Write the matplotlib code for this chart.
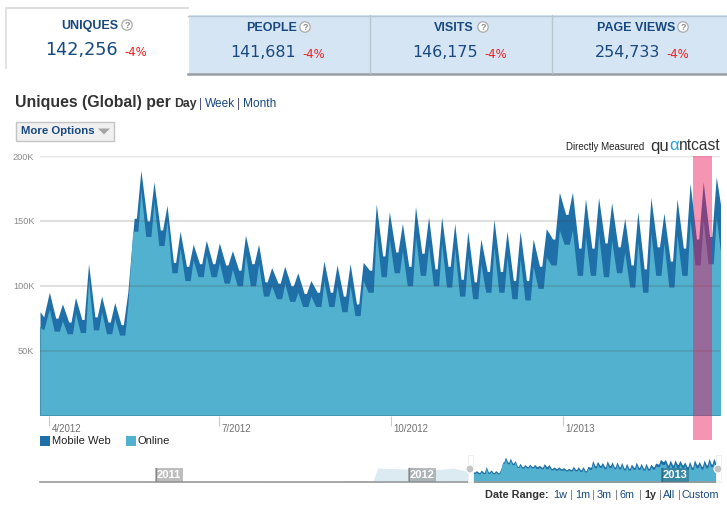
"""Quantcast traffic panel: tabs, daily uniques area chart and overview strip."""

import matplotlib
matplotlib.use("Agg")
import matplotlib.pyplot as plt
from matplotlib.patches import Circle, Polygon, Rectangle
from matplotlib.transforms import ScaledTranslation
import numpy as np

plt.rcParams["font.family"] = ["Liberation Sans", "DejaVu Sans"]

W, H = 727, 509

# weekly highs and lows in thousands, one value per week from the start of April 2012
total_peak = [95, 86, 91, 117, 92, 87, 95, 189, 180, 162, 142, 132, 135, 133, 127,
              139, 132, 114, 115, 110, 104, 119, 116, 117, 118,
              163, 157, 148, 161, 153, 153, 148, 142, 136,
              151, 142, 142, 136, 144,
              172, 172, 167, 168, 164, 152, 157, 168, 156, 167, 179, 180, 184]
total_low = [75, 72, 74, 76, 72, 70, 152, 150, 143, 118, 115, 117, 117, 116, 112,
             117, 103, 102, 100, 94, 95, 95, 92, 86, 112,
             123, 126, 115, 125, 113, 115, 105, 103, 111,
             111, 104, 104, 115, 136,
             155, 129, 129, 133, 130, 116, 113, 130, 119, 129, 136, 138, 152]
online_peak = [82, 73, 79, 105, 80, 75, 85, 174, 165, 150, 129, 120, 124, 118, 113,
               124, 117, 100, 102, 95, 92, 104, 100, 100, 104,
               142, 136, 127, 138, 131, 133, 129, 122, 117,
               130, 122, 121, 115, 122,
               143, 143, 138, 140, 135, 126, 134, 141, 133, 139, 151, 151, 153]
online_low = [65, 63, 64, 66, 63, 62, 142, 138, 131, 110, 104, 107, 107, 102, 100,
              100, 92, 90, 88, 84, 84, 84, 80, 77, 95,
              107, 110, 100, 108, 100, 99, 92, 90, 95,
              95, 90, 89, 98, 116,
              132, 108, 108, 107, 110, 99, 95, 108, 99, 108, 116, 117, 122]
start_total = [80, 76]
start_online = [68, 66]

y_ticks = [50, 100, 150, 200]
y_labels = ["50K", "100K", "150K", "200K"]
month_days = [5, 96, 188, 280]
month_labels = ["4/2012", "7/2012", "10/2012", "1/2013"]

# overview strip history before the selected year (days since 1 Jan 2011, thousands)
hist_days = [-168, -100, 0, 60, 120, 180, 240, 300, 314, 320, 365, 366, 400, 430, 451]
hist_values = [1, 1, 2, 3, 5, 6, 7, 8, 10, 105, 98, 115, 92, 105, 80]
year_days = [0, 365, 731]
year_labels = ["2011", "2012", "2013"]

tabs = ["UNIQUES", "PEOPLE", "VISITS", "PAGE VIEWS"]
tab_values = ["142,256", "141,681", "146,175", "254,733"]
tab_changes = ["-4%", "-4%", "-4%", "-4%"]

NAVY = "#17487f"
ONLINE = "#52b1ce"
MOBILE = "#1f6fa8"

# one peak, then a low that holds for a few days, every week
peak_days = 5 + 7 * np.arange(len(total_peak))
total_days = np.concatenate([[0, 2], np.column_stack([peak_days, peak_days + 3.4, peak_days + 4.6]).ravel()])
online_days = np.concatenate([[0, 2], np.column_stack([peak_days, peak_days + 2.6, peak_days + 5.4]).ravel()])
total = np.concatenate([start_total, np.column_stack([total_peak, total_low, total_low]).ravel()])
online = np.concatenate([start_online, np.column_stack([online_peak, online_low, online_low]).ravel()])

fig = plt.figure(figsize=(W / 100, H / 100), dpi=100, facecolor="white")


def px_axes(left, top, right, bottom, **kwargs):
    return fig.add_axes([left / W, 1 - bottom / H, (right - left) / W, (bottom - top) / H], **kwargs)


page = px_axes(0, 0, W, H, zorder=1)
page.set_xlim(0, W)
page.set_ylim(H, 0)
page.axis("off")


def label(x, y, s, size=8, color="#222222", weight="normal", ha="left", **kwargs):
    return page.text(x, y, s, fontsize=size, color=color, fontweight=weight, ha=ha, va="center", **kwargs)


def help_icon(x, y):
    page.add_patch(Circle((x, y), 5.2, fc="white", ec="#aaaaaa", lw=0.9))
    label(x, y, "?", size=6.5, color="#888888", weight="bold", ha="center")


# tabs
page.add_patch(Rectangle((188, 15), 539, 59, fc="#d6e5f3", ec="none"))
page.plot([188, W], [15.5, 15.5], color="#b5c5d3", lw=1)
page.plot([188, W], [73.8, 73.8], color="#9a9fa3", lw=1.8)
for x in (370, 552):
    page.plot([x, x], [15, 73], color="#b9c6d0", lw=1)
page.add_patch(Rectangle((4.5, 6.5), 184, 3, fc="#dcdcdc", ec="none"))
page.add_patch(Rectangle((4.5, 6.5), 3, 62, fc="#e2e2e2", ec="none"))
page.add_patch(Rectangle((6.5, 8.5), 182, 66, fc="white", ec="none"))
name_x = [90, 272, 454, 636]
icon_x = [127, 305, 483, 683]
value_right = [118, 296, 478, 660]
change_x = [136, 314, 496, 678]
for i, name in enumerate(tabs):
    top = 26 if i == 0 else 28
    label(name_x[i], top, name, size=9, color=NAVY, weight="bold", ha="center")
    help_icon(icon_x[i], top - 1)
    vy = 50 if i == 0 else 52
    label(value_right[i], vy, tab_values[i], size=12.7 if i == 0 else 11.4, color=NAVY, ha="right",
          family="DejaVu Sans")
    label(change_x[i], vy + 2, tab_changes[i], size=8.4, color="#f01c1c", ha="center",
          family="DejaVu Sans")

# headings and button
label(15, 102, "Uniques (Global) per", size=11.4, color="#333333", weight="bold")
label(174, 103.5, "Day", size=8.8, color="#333333", weight="bold")
label(199, 103.5, "|", size=8.4, color="#555588")
label(205, 103.5, "Week", size=8.6, color=NAVY)
label(237, 103.5, "|", size=8.4, color="#555588")
label(243, 103.5, "Month", size=8.6, color=NAVY)
page.add_patch(Rectangle((15.5, 121.5), 98, 19, fc="#f0f0f0", ec="#c4c4c4", lw=1))
label(21, 131, "More Options", size=8.2, color=NAVY, weight="bold")
page.add_patch(Polygon([[98, 128.5], [110, 128.5], [104, 134.5]], fc="#a5a5a5", ec="none"))

label(566, 147.5, "Directly Measured", size=7, color="#222222")
label(650, 146, "qu", size=12, color="#333333")
label(669, 146, "α", size=12, color="#2a9fd6")
label(679, 146, "ntcast", size=11.2, color="#333333")

# main chart
ax = px_axes(40, 156, 720, 415.5, zorder=2)
ax.patch.set_alpha(0)
ax.fill_between(total_days, 0, total, color=MOBILE, lw=0)
ax.fill_between(online_days, 0, online, color=ONLINE, lw=0)
ax.plot([0, 0], [0, online[0]], color="#3f98b3", lw=1)
ax.axhline(0, color="#3f98b3", lw=1.4)
for tick in y_ticks:
    ax.axhline(tick, color="#444444", alpha=0.16 if tick < 200 else 0.14, lw=1.5 if tick < 200 else 1, zorder=3)
ax.set_xlim(0, 364)
ax.set_ylim(0, 200)
ax.set_yticks(y_ticks, y_labels, fontsize=6.6, color="#8a8a8a")
ax.set_xticks(month_days, month_labels, fontsize=7, color="#6f6f6f", ha="left")
ax.tick_params(axis="y", length=0, pad=4)
ax.tick_params(axis="x", length=7, width=0.8, color="#cccccc", pad=-1)
for tick_label in ax.get_xticklabels():
    tick_label.set_transform(tick_label.get_transform() + ScaledTranslation(2 / 100, 0, fig.dpi_scale_trans))
for side in ax.spines.values():
    side.set_visible(False)
ax.axvspan(349.6, 359.6, ymin=-0.0945, ymax=1, color="#ed185b", alpha=0.46, lw=0, clip_on=False, zorder=4)

# legend
page.add_patch(Rectangle((40, 436), 10, 10, fc=MOBILE, ec="none"))
label(52, 441.5, "Mobile Web", size=8, color="#222222")
page.add_patch(Rectangle((126, 436), 10, 10, fc=ONLINE, ec="none"))
label(138, 441.5, "Online", size=8, color="#222222")

# overview strip
mini = px_axes(40, 452, 720, 482, zorder=3)
mini.patch.set_alpha(0)
mini.fill_between(hist_days, 0, hist_values, color="#dcebf1", lw=0)
mini.fill_between(451 + total_days, 0, total, color=MOBILE, lw=0)
mini.fill_between(451 + online_days, 0, online, color=ONLINE, lw=0)
mini.set_xlim(-167.6, 815)
mini.set_ylim(0, 227)
mini.axis("off")
mini.axhline(0, color="#9a9a9a", lw=1.2, clip_on=False)
for day, year in zip(year_days, year_labels):
    selected = day > 451
    mini.plot([day, day], [0, 108], color="#888888" if not selected else "#3f7f96", lw=0.9)
    mini.text(day + 1.5, 53, year, fontsize=8, color="white", fontweight="bold", ha="left", va="center",
              bbox=dict(boxstyle="square,pad=0.14", fc="#1f5f7a" if selected else "#888888",
                        alpha=0.5 if selected else 0.55, ec="none"))

handles = px_axes(0, 0, W, H, zorder=4)
handles.set_xlim(0, W)
handles.set_ylim(H, 0)
handles.axis("off")
handles.patch.set_alpha(0)
for handle_x in (470, 718):
    handles.add_patch(Rectangle((handle_x - 2.5, 455), 5, 27, fc="white", ec="#efefef", lw=0.7))
    handles.add_patch(Circle((handle_x, 469), 4, fc="#c4c4c4", ec="white", lw=0.8))

# date range links
label(485, 494.5, "Date Range:", size=7.8, color="#333333", weight="bold")
links = [(553, "1w"), (575, "1m"), (597, "3m"), (620, "6m"), (644, "1y"), (663, "All"), (682, "Custom")]
for x, text in links:
    label(x, 494.5, text, size=7.8, color=NAVY if text != "1y" else "#333333", weight="bold" if text == "1y" else "normal")
for x in (570, 592, 615, 639, 659, 678):
    label(x, 494.5, "|", size=7.8, color="#777777")

fig.savefig("out.png", dpi=100)
plt.close(fig)
